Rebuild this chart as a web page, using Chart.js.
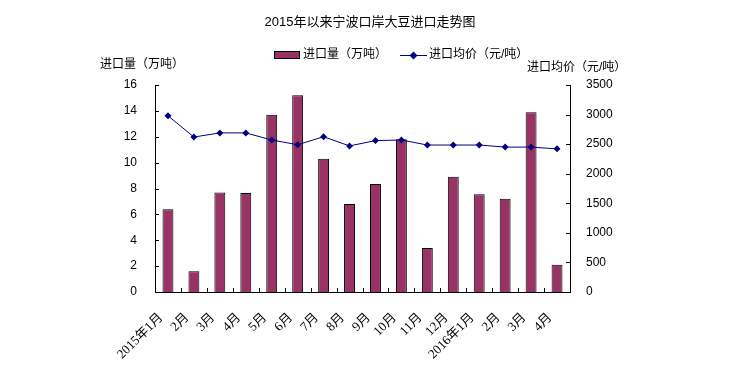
<!DOCTYPE html>
<html><head><meta charset="utf-8">
<script src="https://cdn.jsdelivr.net/npm/chart.js@4/dist/chart.umd.min.js"></script>
<style>html,body{margin:0;padding:0;background:#fff}#wrap{width:740px;height:376px}</style>
</head><body><div id="wrap"><canvas id="c" width="740" height="376"></canvas></div>
<script>
const categories = ["2015年1月","2月","3月","4月","5月","6月","7月","8月","9月","10月","11月","12月","2016年1月","2月","3月","4月"];
const volume = [6.4,1.6,7.7,7.65,13.7,15.2,10.3,6.8,8.35,11.8,3.4,8.9,7.55,7.2,13.9,2.1];
const price = [2980,2620,2690,2690,2570,2490,2625,2470,2560,2570,2485,2485,2485,2450,2450,2420];
const titleText = "2015年以来宁波口岸大豆进口走势图";
const seriesNames = ["进口量（万吨）","进口均价（元/吨）"];
const leftTitle = "进口量（万吨）";
const rightTitle = "进口均价（元/吨）";

const sans = "'Liberation Sans','Noto Sans CJK SC',sans-serif";
const serif = "'Liberation Serif','Noto Sans CJK SC',serif";

const deco = {
  id:'deco',
  afterDraw(chart){
    const ctx = chart.ctx, a = chart.chartArea;
    const x = chart.scales.x, y = chart.scales.y, y1 = chart.scales.y1;
    ctx.save();
    ctx.strokeStyle = '#000'; ctx.lineWidth = 1;
    ctx.beginPath();
    y.ticks.forEach(t=>{const py=Math.round(y.getPixelForValue(t.value))+0.5; ctx.moveTo(a.left,py); ctx.lineTo(a.left+4,py);});
    y1.ticks.forEach(t=>{const py=Math.round(y1.getPixelForValue(t.value))+0.5; ctx.moveTo(a.right,py); ctx.lineTo(a.right-4,py);});
    for(let i=0;i<=categories.length;i++){
      const px=Math.round(x.getPixelForValue(i-0.5))+0.5;
      ctx.moveTo(px,a.bottom); ctx.lineTo(px,a.bottom-4);
    }
    ctx.stroke();
    ctx.fillStyle='#000';
    ctx.font = "13px "+sans; ctx.textAlign='center'; ctx.textBaseline='middle';
    ctx.fillText(titleText, 370, 22);
    ctx.font = "12px "+sans; ctx.textAlign='left';
    ctx.fillText(leftTitle, 100, 65);
    ctx.fillText(rightTitle, 527, 68);
    // legend
    ctx.fillStyle='#993366'; ctx.fillRect(274.5,51.5,25,7); ctx.strokeRect(274.5,51.5,25,7);
    ctx.fillStyle='#000'; ctx.fillText(seriesNames[0], 303, 55);
    ctx.strokeStyle='#000080'; ctx.beginPath(); ctx.moveTo(400,55.5); ctx.lineTo(427,55.5); ctx.stroke();
    ctx.fillStyle='#000080'; ctx.beginPath(); ctx.moveTo(413.5,51.5); ctx.lineTo(417.5,55.5); ctx.lineTo(413.5,59.5); ctx.lineTo(409.5,55.5); ctx.closePath(); ctx.fill();
    ctx.fillStyle='#000'; ctx.fillText(seriesNames[1], 429, 55);
    ctx.restore();
  }
};

new Chart(document.getElementById('c'),{
  data:{
    labels:categories,
    datasets:[
      {type:'line',label:seriesNames[1],data:price,yAxisID:'y1',borderColor:'#000080',backgroundColor:'#000080',borderWidth:1,pointStyle:'rectRot',pointRadius:3.5,pointBorderWidth:0,tension:0,order:0},
      {type:'bar',label:seriesNames[0],data:volume,yAxisID:'y',backgroundColor:'#993366',borderColor:'#000',borderWidth:1,barPercentage:0.42,categoryPercentage:1,order:1}
    ]
  },
  options:{
    responsive:false,animation:false,
    layout:{padding:{top:85,left:0,right:0,bottom:0}},
    plugins:{legend:{display:false},title:{display:false},tooltip:{enabled:false}},
    scales:{
      x:{offset:true,grid:{display:false},border:{display:true,color:'#000'},
        ticks:{color:'#000',font:{family:serif,size:13},minRotation:45,maxRotation:45,autoSkip:false,padding:10,labelOffset:-7},
        afterFit(s){s.height=84;}},
      y:{position:'left',min:0,max:16,grid:{display:false},border:{display:true,color:'#000'},
        ticks:{stepSize:2,color:'#000',font:{family:sans,size:12},padding:10,callback:v=>String(v)},
        afterFit(s){s.width=155;}},
      y1:{position:'right',min:0,max:3500,grid:{display:false},border:{display:true,color:'#000'},
        ticks:{stepSize:500,color:'#000',font:{family:sans,size:12},padding:8,callback:v=>String(v)},
        afterFit(s){s.width=170;}}
    }
  },
  plugins:[deco]
});
</script></body></html>
